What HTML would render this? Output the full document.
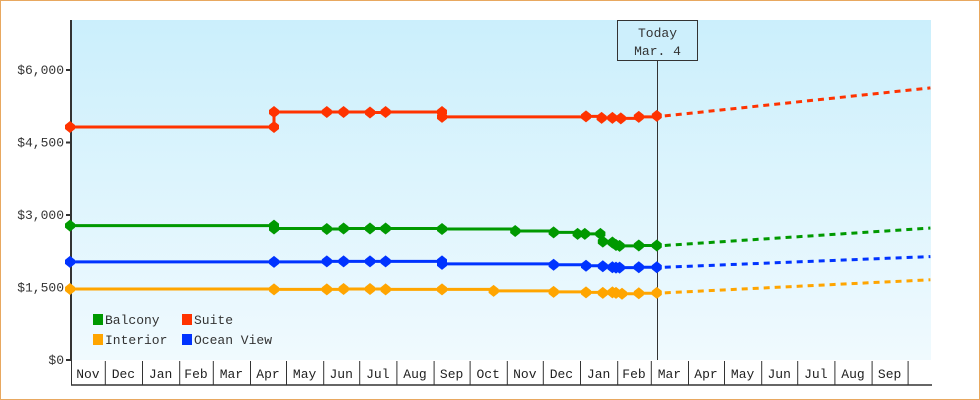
<!DOCTYPE html>
<html><head><meta charset="utf-8"><style>
body{margin:0;background:#fff}
svg{display:block;font-family:"Liberation Mono","DejaVu Sans Mono",monospace}
</style></head><body>
<svg id="c" width="980" height="400" viewBox="0 0 980 400">
<defs><linearGradient id="bg" x1="0" y1="0" x2="0" y2="1"><stop offset="0" stop-color="#cbeffc"/><stop offset="1" stop-color="#f0fafe"/></linearGradient></defs>
<rect x="0.5" y="0.5" width="979" height="399" fill="#fff" stroke="#e8a860"/>
<rect x="72" y="20" width="859" height="340" fill="url(#bg)"/>
<g id="g"></g>
</svg>
<script>
// days since first sample; today = day 489
const balconyDays=[0,170,170,214,228,250,263,310,371,403,423,429,442,444,452,455,458,474,489];
const balconyVals=[2780,2780,2720,2710,2720,2720,2720,2710,2670,2640,2610,2610,2610,2450,2430,2380,2360,2370,2370];
const suiteDays=[0,170,170,214,228,250,263,310,310,430,443,452,459,474,489];
const suiteVals=[4820,4820,5130,5130,5130,5120,5130,5130,5030,5040,5010,5010,5000,5030,5050];
const oceanDays=[0,170,214,228,250,263,310,310,403,430,444,452,455,458,474,489];
const oceanVals=[2030,2030,2040,2040,2040,2040,2040,1990,1970,1950,1940,1920,1910,1910,1920,1920];
const interiorDays=[0,170,214,228,250,263,310,353,403,430,444,452,455,460,474,489];
const interiorVals=[1470,1460,1460,1470,1470,1460,1460,1430,1410,1400,1390,1400,1390,1370,1380,1390];
const projEndDay=717;
const projEnd={balcony:2730,suite:5630,ocean:2140,interior:1660};
const yTicks=[0,1500,3000,4500,6000];
const yTickLabels=["$0","$1,500","$3,000","$4,500","$6,000"];
const months=["Nov","Dec","Jan","Feb","Mar","Apr","May","Jun","Jul","Aug","Sep","Oct","Nov","Dec","Jan","Feb","Mar","Apr","May","Jun","Jul","Aug","Sep"];
const monthLens=[30,31,31,28,31,30,31,30,31,31,30,31,30,31,31,28,31,30,31,30,31,31,30];
const todayDay=489;

const NS="http://www.w3.org/2000/svg";
const g=document.getElementById('g');
const X=d=>70+d*1.2;
const Y=v=>360-v*(290/6000);
function el(t,a,p){const e=document.createElementNS(NS,t);for(const k in a)e.setAttribute(k,a[k]);(p||g).appendChild(e);return e;}

let ax=el('line',{x1:71,y1:20,x2:71,y2:361,stroke:'#333','stroke-width':2});


yTicks.forEach((v,i)=>{
 const t=el('line',{x1:66,x2:71,y1:Y(v),y2:Y(v),stroke:'#333','stroke-width':2});
 
 
 const l=el('text',{x:64,y:Y(v)+4,'text-anchor':'end','font-size':13,fill:'#333'});
 l.textContent=yTickLabels[i];
 
 
});
let d0=-1;
let bl=el('line',{x1:71,y1:385,x2:932,y2:385,stroke:'#333','stroke-width':1.5});


let dd=d0;
months.forEach((m,i)=>{
 const x0=Math.max(71,X(dd)), x1=X(dd+monthLens[i]);
 const s=el('line',{x1:x0+0.5,x2:x0+0.5,y1:361,y2:385,stroke:'#333','stroke-width':1});
 
 
 const t=el('text',{x:(x0+x1)/2,y:378,'text-anchor':'middle','font-size':13,fill:'#222'});
 t.textContent=m;
 
 
 dd+=monthLens[i];
});
let ls=el('line',{x1:X(dd)+0.5,x2:X(dd)+0.5,y1:361,y2:385,stroke:'#333'});



const tx=Math.round(X(todayDay))+0.5;
let tl=el('line',{x1:tx,x2:tx,y1:60,y2:360,stroke:'#333','stroke-width':1});


let tb=el('rect',{x:tx-40,y:20.5,width:80,height:40,fill:'#cdeffc',stroke:'#333'});


[['Today',37],['Mar. 4',55]].forEach(([s,y])=>{
 const t=el('text',{x:tx,y:y,'text-anchor':'middle','font-size':13,fill:'#333'});
 t.textContent=s;
 
 
});

function series(name,days,vals,color,pe){
 let d=`M${X(days[0])},${Y(vals[0])}`;
 for(let i=1;i<days.length;i++){d+=`H${X(days[i])}V${Y(vals[i])}`;}
 const p=el('path',{d:d,fill:'none',stroke:color,'stroke-width':3});
 
 
 const last=vals[vals.length-1];
 const pr=el('line',{x1:X(days[days.length-1])+8,y1:Y(last),x2:X(projEndDay),y2:Y(pe),stroke:color,'stroke-width':3,'stroke-dasharray':'6,5'});
 
 
 days.forEach((dy,i)=>{
  const x=X(dy),y=Y(vals[i]);
  const m=el('path',{d:`M${x},${y-6}L${x+5},${y-2}L${x+5},${y+2}L${x},${y+6}L${x-5},${y+2}L${x-5},${y-2}Z`,fill:color});
  
  
 });
}
series('suite',suiteDays,suiteVals,'#ff3300',projEnd.suite);
series('balcony',balconyDays,balconyVals,'#009900',projEnd.balcony);
series('ocean-view',oceanDays,oceanVals,'#0033ff',projEnd.ocean);
series('interior',interiorDays,interiorVals,'#ffa500',projEnd.interior);

[['Balcony','#009900',93,314],['Suite','#ff3300',182,314],['Interior','#ffa500',93,334],['Ocean View','#0033ff',182,334]].forEach(([n,c,x,y])=>{
 const r=el('rect',{x:x,y:y,width:10,height:11,fill:c});
 
 
 const t=el('text',{x:x+12,y:y+10,'font-size':13,fill:'#333'});
 t.textContent=n;
 
 
});
</script>
</body></html>
